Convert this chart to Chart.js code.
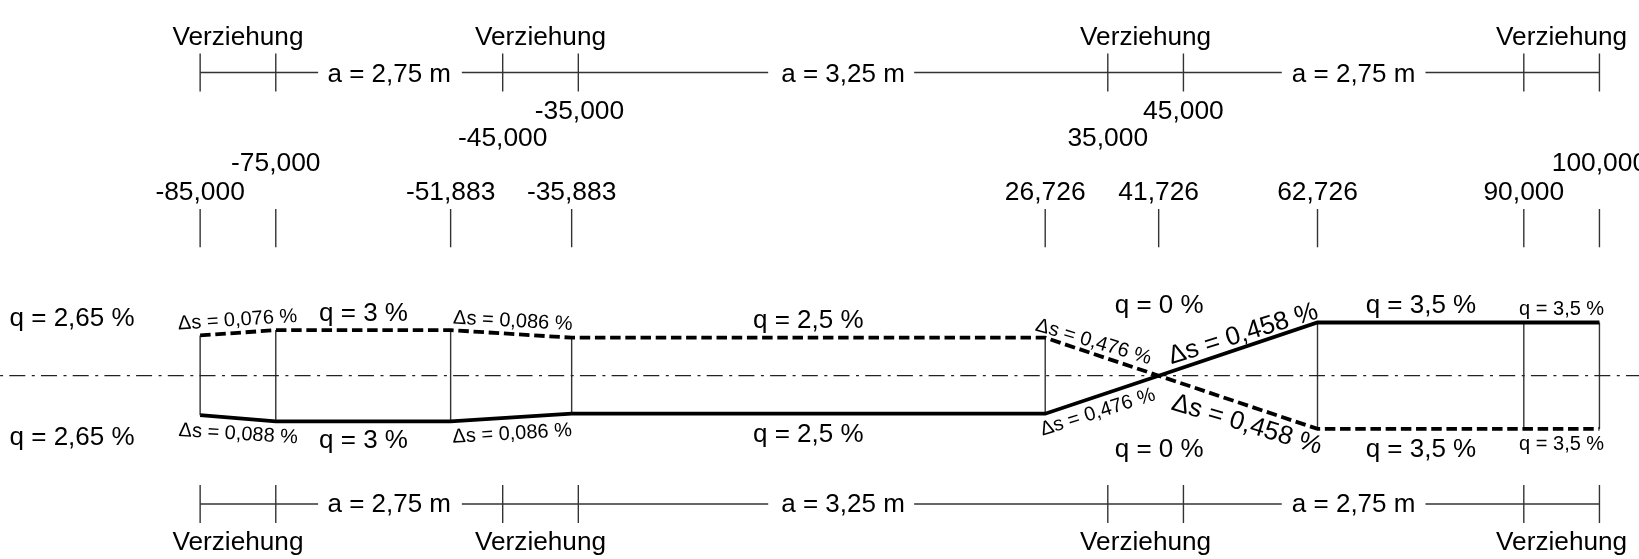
<!DOCTYPE html>
<html>
<head>
<meta charset="utf-8">
<title>Verziehung</title>
<script src="https://cdn.jsdelivr.net/npm/chart.js@4/dist/chart.umd.min.js"></script>
<style>
  html, body { margin: 0; padding: 0; background: #fff; overflow: hidden; }
  #wrap { width: 1639px; height: 559px; }
</style>
</head>
<body>
<div id="wrap"><canvas id="chart"></canvas></div>
<script>
// stations along the axis and crossfall q (%) of the two edges
const stations = [-85, -75, -51.883, -35.883, 26.726, 41.726, 62.726, 90, 100];
const dashedEdge = [2.65, 3, 3, 2.5, 2.5, 0, -3.5, -3.5, -3.5];
const solidEdge = [-2.6, -3, -3, -2.5, -2.5, 0, 3.5, 3.5, 3.5];

// stations of the Verziehung dimension rows
const dimStations = [-85, -75, -45, -35, 35, 45, 90, 100];
const dimGaps = [[-69.4, -50.4], [-9.9, 9.4], [58, 77]];
const dimLevelTop = 19.95, dimLevelBottom = -8.44;
const dimTick = 1.25;

const stationTickLevels = [8.45, 10.97];
const crossSections = [-85, -75, -51.883, -35.883, 26.726, 62.726, 90, 100];

// station labels: text comes from the station, the rest says where it sits
const stationLabels = [-85, -75, -51.883, -45, -35.883, -35, 26.726, 35, 41.726, 45, 62.726, 90, 100];
const stationLabelAnchors = [-85, -75, -51.883, -45, -35.883, -34.85, 26.726, 35, 41.726, 45, 62.726, 90, 100];
const stationLabelLevels = [11.53, 13.5, 11.53, 15.1, 11.53, 16.9, 11.53, 15.1, 11.53, 16.9, 11.53, 11.53, 13.5];

const verzStations = [-80, -40, 40, 95];
const verzLevels = [21.75, -11.5];
const aTexts = ['a = 2,75 m', 'a = 3,25 m', 'a = 2,75 m'];
const aStations = [-60, 0, 67.5];
const aLevels = [19.3, -9.0];

const qTexts = ['q = 2,65 %', 'q = 2,65 %', 'q = 3 %', 'q = 3 %', 'q = 2,5 %', 'q = 2,5 %', 'q = 0 %', 'q = 0 %', 'q = 3,5 %', 'q = 3,5 %'];
const qStations = [-101.93, -101.93, -63.4, -63.4, -4.6, -4.6, 41.8, 41.8, 76.4, 76.4];
const qLevels = [3.26, -4.55, 3.62, -4.78, 3.13, -4.36, 4.14, -5.33, 4.14, -5.33];

const smallQTexts = ['q = 3,5 %', 'q = 3,5 %'];
const smallQStations = [95, 95];
const smallQLevels = [4.0, -4.89];

const dsTexts = ['Δs = 0,076 %', 'Δs = 0,086 %', 'Δs = 0,088 %', 'Δs = 0,086 %', 'Δs = 0,476 %', 'Δs = 0,476 %'];
const dsStations = [-80, -43.7, -80, -43.7, 32.9, 33.9];
const dsLevels = [3.29, 3.22, -4.21, -4.19, 1.87, -2.76];
const dsAngles = [-3.7, 3.2, 3.5, -3.2, 16.5, -17.5];

const dsBigTexts = ['Δs = 0,458 %', 'Δs = 0,458 %'];
const dsBigStations = [53.2, 53.1];
const dsBigLevels = [2.28, -3.68];
const dsBigAngles = [-17.4, 16.8];

const INK = '#000', THIN = '#333', FONT = '"Liberation Sans", Arial, sans-serif';

function fmtStation(s) { return s.toFixed(3).replace('.', ','); }

function thinLine(points, extra) {
  return Object.assign({ data: points, borderColor: THIN, borderWidth: 1.4, pointRadius: 0, tension: 0, order: 5 }, extra);
}

const datasets = [];

// axis line
datasets.push(thinLine([{ x: -111.46, y: 0 }, { x: 105.23, y: 0 }], { borderDash: [16, 6.5, 3, 6.2], borderDashOffset: 22.4, borderWidth: 1.2, borderColor: '#222' }));

// cross sections and station ticks
crossSections.forEach(s => {
  const i = stations.indexOf(s);
  datasets.push(thinLine([{ x: s, y: dashedEdge[i] }, { x: s, y: solidEdge[i] }]));
  datasets.push(thinLine([{ x: s, y: stationTickLevels[0] }, { x: s, y: stationTickLevels[1] }]));
});
datasets.push(thinLine([{ x: 41.726, y: stationTickLevels[0] }, { x: 41.726, y: stationTickLevels[1] }]));

// dimension rows with gaps for the text
[dimLevelTop, dimLevelBottom].forEach(lv => {
  dimStations.forEach(s => datasets.push(thinLine([{ x: s, y: lv - dimTick }, { x: s, y: lv + dimTick }])));
  let from = dimStations[0];
  dimGaps.forEach(g => {
    datasets.push(thinLine([{ x: from, y: lv }, { x: g[0], y: lv }]));
    from = g[1];
  });
  datasets.push(thinLine([{ x: from, y: lv }, { x: 100, y: lv }]));
});

// the two edges
datasets.push({
  data: stations.map((s, i) => ({ x: s, y: dashedEdge[i] })),
  borderColor: INK, borderWidth: 3.8, borderDash: [10.5, 4.7], pointRadius: 0, tension: 0, order: 1
});
datasets.push({
  data: stations.map((s, i) => ({ x: s, y: solidEdge[i] })),
  borderColor: INK, borderWidth: 3.8, pointRadius: 0, tension: 0, order: 1
});

const textPlugin = {
  id: 'drawingText',
  afterDatasetsDraw(chart) {
    const { ctx, scales: { x, y } } = chart;
    const put = (txt, s, lv, size, angle) => {
      ctx.save();
      ctx.translate(x.getPixelForValue(s), y.getPixelForValue(lv));
      ctx.rotate((angle || 0) * Math.PI / 180);
      ctx.font = size + 'px ' + FONT;
      ctx.fillStyle = '#000';
      ctx.textAlign = 'center';
      ctx.textBaseline = 'alphabetic';
      ctx.fillText(txt, 0, 0);
      ctx.restore();
    };
    verzStations.forEach(s => verzLevels.forEach(lv => put('Verziehung', s, lv, 26.2)));
    aTexts.forEach((t, i) => aLevels.forEach(lv => put(t, aStations[i], lv, 26)));
    stationLabels.forEach((s, i) => put(fmtStation(s), stationLabelAnchors[i], stationLabelLevels[i], 26.4));
    qTexts.forEach((t, i) => put(t, qStations[i], qLevels[i], 26));
    smallQTexts.forEach((t, i) => put(t, smallQStations[i], smallQLevels[i], 20));
    dsTexts.forEach((t, i) => put(t, dsStations[i], dsLevels[i], 20, dsAngles[i]));
    dsBigTexts.forEach((t, i) => put(t, dsBigStations[i], dsBigLevels[i], 26, dsBigAngles[i]));
  }
};

new Chart(document.getElementById('chart'), {
  type: 'line',
  data: { datasets },
  options: {
    responsive: true, maintainAspectRatio: false,
    animation: false,
    layout: { padding: 0 },
    parsing: false,
    normalized: true,
    scales: {
      x: { type: 'linear', display: false, min: -111.46, max: 105.23 },
      y: { type: 'linear', display: false, min: -12.06, max: 24.72 }
    },
    plugins: { legend: { display: false }, tooltip: { enabled: false } },
    elements: { line: { borderCapStyle: 'butt', borderJoinStyle: 'miter' } }
  },
  plugins: [textPlugin]
});
</script>
</body>
</html>
